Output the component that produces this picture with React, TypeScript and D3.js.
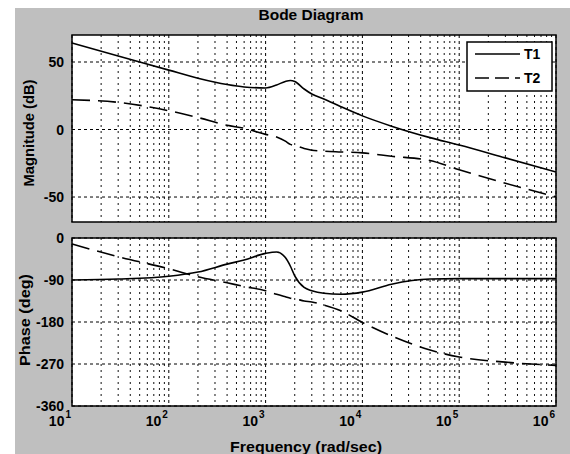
import React from "react";
import * as d3 from "d3";

// ---- data ----
const freqs = [10, 30, 100, 200, 400, 600, 1000, 1300, 1600, 1800, 2000, 2500, 3000, 4000, 6000, 10000, 20000, 50000, 100000, 300000, 1000000];
const t1Mag = [64, 54.5, 44, 38, 33.3, 31.5, 30.8, 33, 35.6, 36.3, 35.6, 30, 26.3, 22.6, 16.9, 10.1, 2.5, -6, -11.5, -21, -31.5];
const t2Mag = [22, 20.1, 13.9, 8.9, 3.1, 0.9, -3.6, -5.6, -8.6, -11, -11.8, -14, -15.3, -16, -16.6, -17.3, -19.8, -23, -29.8, -39.8, -49.8];
const t1Phase = [-90, -88, -82, -73, -56, -47, -33, -30, -42, -60, -81, -106, -113, -118.5, -120.5, -116, -99, -88, -87, -87, -87];
const t2Phase = [-13, -40, -66, -83, -96, -104, -113, -120.6, -126, -129, -130, -135, -137, -143.5, -156, -181, -210, -240, -255, -266, -273];

const decadeExps = [1, 2, 3, 4, 5, 6];
const magTicks = [-50, 0, 50];
const magTickLabels = ["-50", "0", "50"];
const phaseTicks = [-360, -270, -180, -90, 0];
const phaseTickLabels = ["-360", "-270", "-180", "-90", "0"];
const seriesNames = ["T1", "T2"];

const FONT = "'Liberation Sans', Arial, Helvetica, sans-serif";

export default function App() {
  const x = d3.scaleLog().domain([10, 1e6]).range([72, 556]);
  const yMag = d3.scaleLinear().domain([-68.5, 70]).range([222, 35]);
  const yPh = d3.scaleLinear().domain([-360, 0]).range([406, 238]);

  const minorFreqs: number[] = [];
  for (let e = 1; e < 6; e++) {
    for (let m = 2; m <= 9; m++) minorFreqs.push(m * Math.pow(10, e));
  }
  const majorFreqs = decadeExps.map((e) => Math.pow(10, e));

  const mkLine = (ys: number[], yScale: d3.ScaleLinear<number, number>) =>
    d3
      .line<number>()
      .x((_, i) => x(freqs[i]))
      .y((v) => yScale(v))
      .curve(d3.curveMonotoneX)(ys) || "";

  const panel = (
    yScale: d3.ScaleLinear<number, number>,
    ticks: number[],
    labels: string[],
    key: string
  ) => {
    const [yb, yt] = yScale.range();
    const x0 = x.range()[0];
    const x1 = x.range()[1];
    return (
      <g key={key}>
        <rect x={x0} y={yt} width={x1 - x0} height={yb - yt} fill="#fff" />
        {minorFreqs.map((f) => (
          <line key={"mi" + f} x1={x(f)} x2={x(f)} y1={yt} y2={yb} stroke="#111" strokeWidth={1} strokeDasharray="2,4" />
        ))}
        {majorFreqs.map((f) => (
          <line key={"ma" + f} x1={x(f)} x2={x(f)} y1={yt} y2={yb} stroke="#000" strokeWidth={1} strokeDasharray="3,3" />
        ))}
        {ticks.map((t) => (
          <line key={"h" + t} x1={x0} x2={x1} y1={yScale(t)} y2={yScale(t)} stroke="#000" strokeWidth={1} strokeDasharray="3,3" />
        ))}
        {ticks.map((t, i) => (
          <text
            key={"tl" + t}
            x={64}
            y={yScale(t) + 5}
            textAnchor="end"
            fontFamily={FONT}
            fontWeight="bold"
            fontSize={14}
            fill="#000"
          >
            {labels[i]}
          </text>
        ))}
      </g>
    );
  };

  const border = (yScale: d3.ScaleLinear<number, number>, key: string) => {
    const [yb, yt] = yScale.range();
    const [x0, x1] = x.range();
    return <rect key={key} x={x0} y={yt} width={x1 - x0} height={yb - yt} fill="none" stroke="#000" strokeWidth={1.5} />;
  };

  return (
    <svg width={570} height={454} style={{ display: "block", position: "absolute", left: 0, top: 0 }}>
      <rect x={0} y={0} width={570} height={454} fill="#fff" />
      <rect x={15} y={8} width={555} height={446} fill="#bfbfbf" />

      {panel(yMag, magTicks, magTickLabels, "mag")}
      {panel(yPh, phaseTicks, phaseTickLabels, "ph")}

      <path d={mkLine(t1Mag, yMag)} fill="none" stroke="#000" strokeWidth={1.6} />
      <path d={mkLine(t2Mag, yMag)} fill="none" stroke="#000" strokeWidth={1.6} strokeDasharray="18,8" />
      <path d={mkLine(t1Phase, yPh)} fill="none" stroke="#000" strokeWidth={1.6} />
      <path d={mkLine(t2Phase, yPh)} fill="none" stroke="#000" strokeWidth={1.6} strokeDasharray="18,8" />

      {border(yMag, "bm")}
      {border(yPh, "bp")}

      {/* x tick labels */}
      {decadeExps.map((e) => {
        const px = x(Math.pow(10, e));
        return (
          <text key={"xl" + e} x={px - 1} y={426} textAnchor="end" fontFamily={FONT} fontWeight="bold" fontSize={14} fill="#000">
            10
            <tspan fontSize={10} dy={-8} dx={1}>
              {e}
            </tspan>
          </text>
        );
      })}

      {/* legend */}
      <g>
        <rect x={467} y={42} width={85} height={49} fill="#fff" stroke="#000" strokeWidth={1.5} />
        <line x1={475} x2={520} y1={54} y2={54} stroke="#000" strokeWidth={1.4} />
        <line x1={475} x2={520} y1={78} y2={78} stroke="#000" strokeWidth={1.4} strokeDasharray="14,6" />
        <text x={524} y={59} fontFamily={FONT} fontWeight="bold" fontSize={14} fill="#000">
          {seriesNames[0]}
        </text>
        <text x={524} y={83} fontFamily={FONT} fontWeight="bold" fontSize={14} fill="#000">
          {seriesNames[1]}
        </text>
      </g>

      {/* titles */}
      <text x={311} y={20} textAnchor="middle" fontFamily={FONT} fontWeight="bold" fontSize={15} textLength={105} lengthAdjust="spacingAndGlyphs" fill="#000">
        Bode Diagram
      </text>
      <text x={306} y={452} textAnchor="middle" fontFamily={FONT} fontWeight="bold" fontSize={15} textLength={152} lengthAdjust="spacingAndGlyphs" fill="#000">
        Frequency  (rad/sec)
      </text>
      <text
        transform="translate(34,133) rotate(-90)"
        textAnchor="middle"
        fontFamily={FONT}
        fontWeight="bold"
        fontSize={14}
        textLength={107}
        lengthAdjust="spacingAndGlyphs"
        fill="#000"
      >
        Magnitude (dB)
      </text>
      <text
        transform="translate(30,320) rotate(-90)"
        textAnchor="middle"
        fontFamily={FONT}
        fontWeight="bold"
        fontSize={14}
        textLength={92}
        lengthAdjust="spacingAndGlyphs"
        fill="#000"
      >
        Phase (deg)
      </text>
    </svg>
  );
}
